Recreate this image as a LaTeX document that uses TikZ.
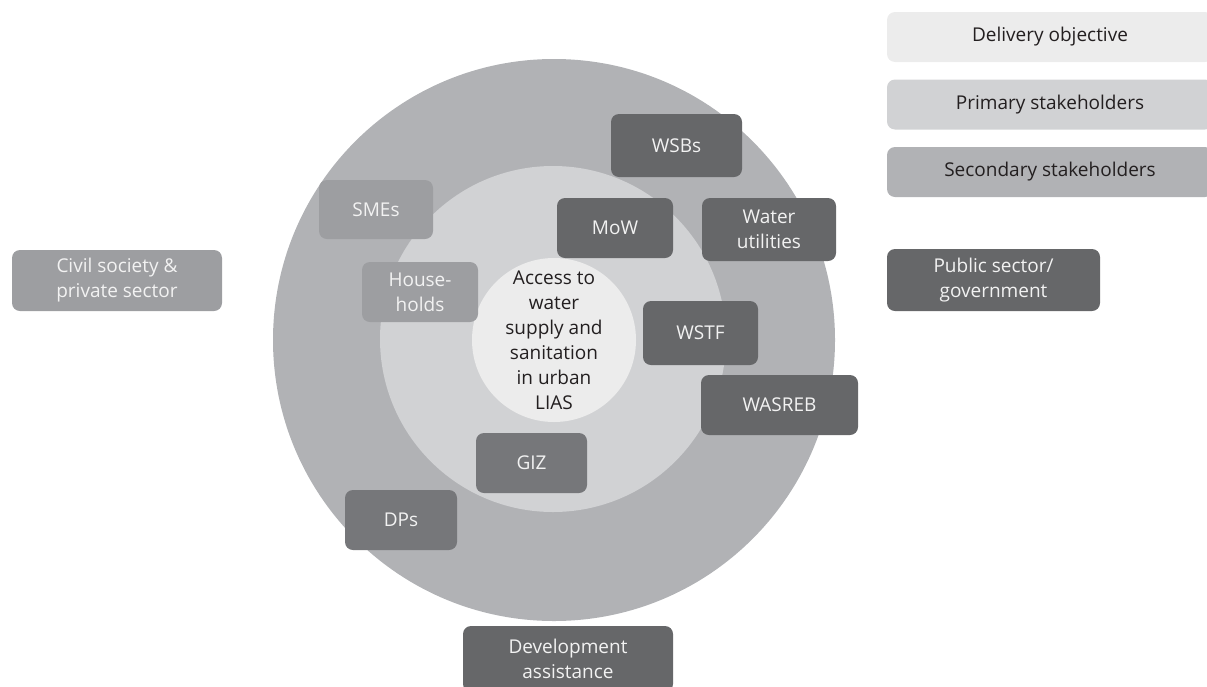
\documentclass[tikz,border=0pt]{standalone}
\usepackage{fontspec}
\setmainfont{Open Sans}
\usepackage{xcolor}
\usepackage{tikz}
\usetikzlibrary{positioning}
\definecolor{outerring}{HTML}{B1B2B5}
\definecolor{innerring}{HTML}{D1D2D4}
\definecolor{core}{HTML}{ECECEC}
\definecolor{pubgray}{HTML}{666769}
\definecolor{devgray}{HTML}{76777A}
\definecolor{civgray}{HTML}{9D9EA1}
\definecolor{inktext}{HTML}{231F20}
\tikzset{every node/.style={align=center}}

\begin{document}
\begin{tikzpicture}[x=1pt, y=-1pt,
    actor/.style={rectangle, rounded corners=8pt, fill=pubgray, text=white!95!black,
                  font=\fontsize{19}{25}\selectfont, inner sep=0pt},
    legend/.style={rectangle, rounded corners=8pt, text=inktext,
                   minimum width=326, minimum height=50,
                   font=\fontsize{19}{25}\selectfont, inner sep=0pt},
    ring/.style={circle, inner sep=0pt}
]
  \useasboundingbox (0,0) rectangle (1207,686);

  % --- rings ---
  \node[ring, fill=outerring, minimum size=562] (OUT) at (554,340) {};
  \node[ring, fill=innerring, minimum size=346] (IN)  at (553,339) {};
  \node[ring, fill=core, minimum size=164, inner sep=-30pt, text=inktext,
        font=\fontsize{19}{25}\selectfont] (OBJ) at (554,340)
        {Access to\\water\\supply and\\sanitation\\in urban\\LIAS};

  % --- public sector / government ---
  \node[actor, minimum width=131, minimum height=63] (WSB)  at (676.5,145.5) {WSBs};
  \node[actor, minimum width=116, minimum height=60] (MOW)  at (615,228)     {MoW};
  \node[actor, minimum width=134, minimum height=63] (WU)   at (769,229.5)   {Water\\utilities};
  \node[actor, minimum width=115, minimum height=64] (WSTF) at (700.5,333)   {WSTF};
  \node[actor, minimum width=157, minimum height=60] (WAS)  at (779.5,405)   {WASREB};

  % --- civil society & private sector ---
  \node[actor, fill=civgray, minimum width=114, minimum height=59] (SME) at (376,209.5) {SMEs};
  \node[actor, fill=civgray, minimum width=116, minimum height=60] (HH)  at (420,292)   {House-\\holds};

  % --- development assistance ---
  \node[actor, fill=devgray, minimum width=111, minimum height=60] (GIZ) at (531.5,463) {GIZ};
  \node[actor, fill=devgray, minimum width=112, minimum height=60] (DP)  at (401,520)   {DPs};

  % --- group labels ---
  \node[actor, fill=civgray, minimum width=210, minimum height=61] (CIV) at (117,280.5)
        {Civil society \&\\private sector};
  \node[actor, minimum width=213, minimum height=62] (PUB) at (993.5,280)
        {Public sector/\\government};
  \node[actor, minimum width=210, minimum height=66] (DEV) at (568,659)
        {Development\\assistance};

  % --- legend ---
  \node[legend, fill=core]      (LOBJ) at (1050,37)    {Delivery objective};
  \node[legend, fill=innerring] (LPRI) at (1050,104.5) {Primary stakeholders};
  \node[legend, fill=outerring] (LSEC) at (1050,172)   {Secondary stakeholders};
\end{tikzpicture}
\end{document}
